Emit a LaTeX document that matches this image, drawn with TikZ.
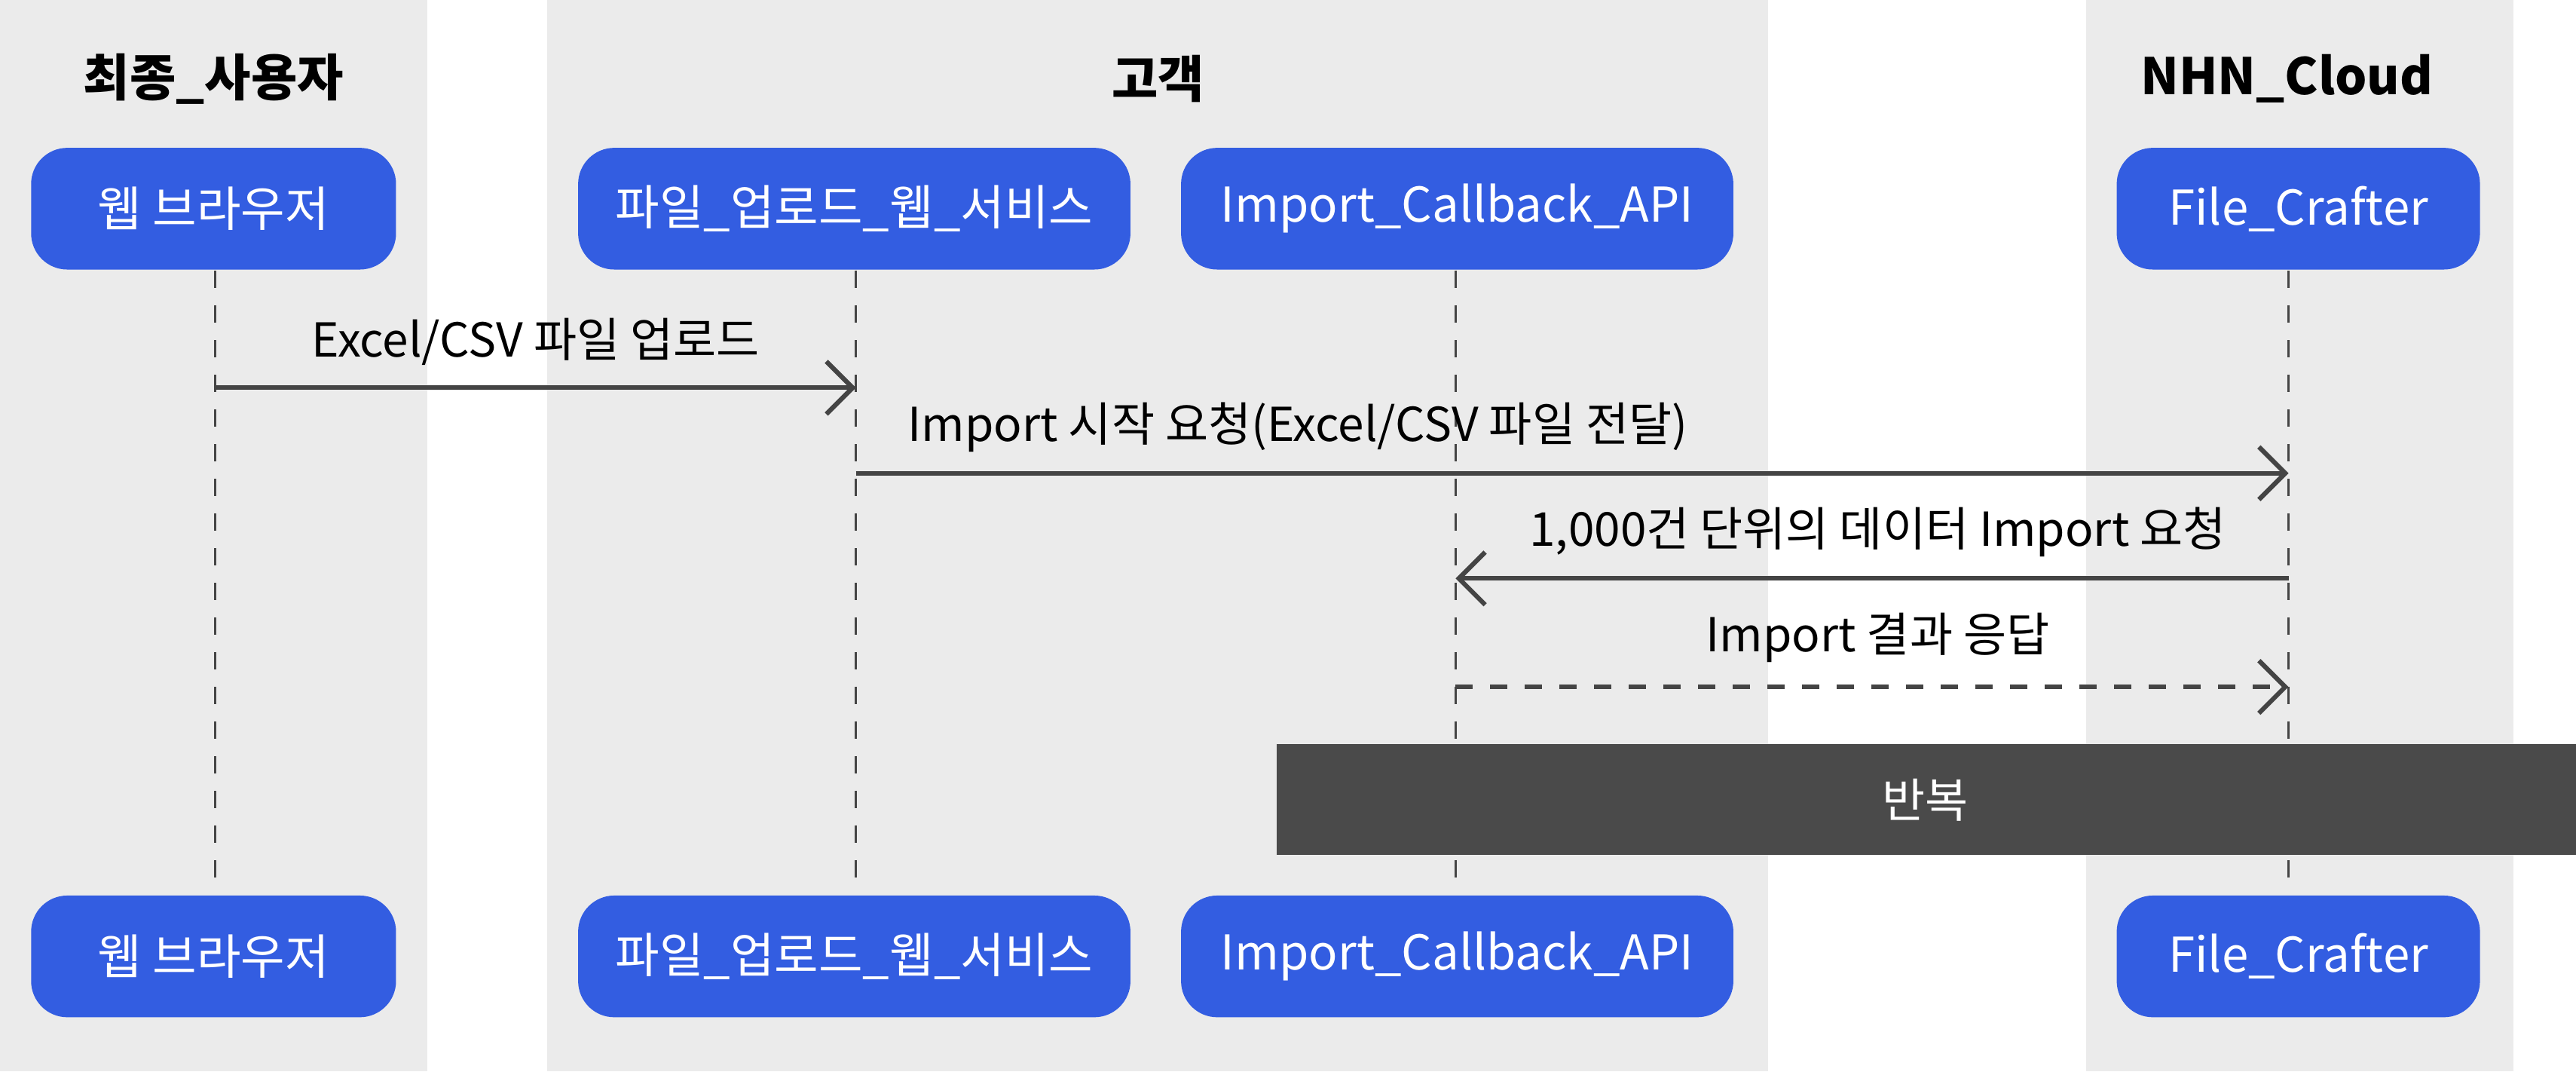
\documentclass[tikz,border=0pt]{standalone}
\usepackage{fontspec}
\setmainfont{Noto Sans CJK KR}
\usetikzlibrary{arrows.meta,positioning}
\definecolor{laneGrey}{HTML}{EBEBEB}
\definecolor{partBlue}{HTML}{335DE1}
\definecolor{loopGrey}{HTML}{4A4A4A}
\definecolor{msgGrey}{HTML}{444444}

\begin{document}
\begin{tikzpicture}[x=0.01cm,y=-0.01cm]
			\tikzstyle{Lane}	= [fill=laneGrey, draw=none]
			\tikzstyle{Title}	= [font=\fontsize{8.7}{10}\selectfont\bfseries]
			\tikzstyle{Part}	= [rectangle, rounded corners=2.2mm, fill=partBlue, text=white, minimum height=7.4mm, inner sep=0pt, font=\fontsize{8.3}{10}\selectfont]
			\tikzstyle{Life}	= [dashed, msgGrey, thin]
			\tikzstyle{Msg}		= [msgGrey, line width=0.8pt, -{Straight Barb[length=1.6mm,width=3.2mm]}]
			\tikzstyle{Label}	= [font=\fontsize{8.1}{10}\selectfont]
			
			\useasboundingbox (0,0) rectangle (1568,652);
			\fill[white] (0,0) rectangle (1568,652);
			\fill[Lane] (0,0) rectangle (260,652);
			\fill[Lane] (333,0) rectangle (1076,652);
			\fill[Lane] (1270,0) rectangle (1530,652);
			
			\node at (130,48) [Title] {최종\_사용자};
			\node at (705,48) [Title] {고객};
			\node at (1392,48) [Title] {NHN\_Cloud};
			
			% participants
			\node (b1) at (130,127) [Part, minimum width=2.22cm] {웹 브라우저};
			\node (w1) at (520,127) [Part, minimum width=3.36cm] {파일\_업로드\_웹\_서비스};
			\node (a1) at (887,127) [Part, minimum width=3.36cm] {Import\_Callback\_API};
			\node (f1) at (1399,127) [Part, minimum width=2.21cm] {File\_Crafter};
			\node (b2) at (130,582) [Part, minimum width=2.22cm] {웹 브라우저};
			\node (w2) at (520,582) [Part, minimum width=3.36cm] {파일\_업로드\_웹\_서비스};
			\node (a2) at (887,582) [Part, minimum width=3.36cm] {Import\_Callback\_API};
			\node (f2) at (1399,582) [Part, minimum width=2.21cm] {File\_Crafter};
			
			\coordinate (lb) at (131,0);
			\coordinate (lw) at (521,0);
			\coordinate (la) at (886,0);
			\coordinate (lf) at (1393,0);
			
			\draw [Life] (lb |- b1.south) -- (lb |- b2.north);
			\draw [Life] (lw |- w1.south) -- (lw |- w2.north);
			\draw [Life] (la |- a1.south) -- (la |- a2.north);
			\draw [Life] (lf |- f1.south) -- (lf |- f2.north);
			
			% messages
			\draw [Msg] (131,236) -- (521,236);
			\node at (326,208) [Label] {Excel/CSV 파일 업로드};
			\draw [Msg] (521,288) -- (1393,288);
			\node at (790,260) [Label] {Import 시작 요청(Excel/CSV 파일 전달)};
			\draw [Msg] (1393,352) -- (886,352);
			\node at (1143,324) [Label] {1,000건 단위의 데이터 Import 요청};
			\draw [Msg, dashed] (886,418) -- (1393,418);
			\node at (1143,388) [Label] {Import 결과 응답};
			
			\fill [loopGrey] (777,453) rectangle (1568,520);
			\node (loop) at (1172,487) [Label, text=white] {반복};
		\end{tikzpicture}
\end{document}
